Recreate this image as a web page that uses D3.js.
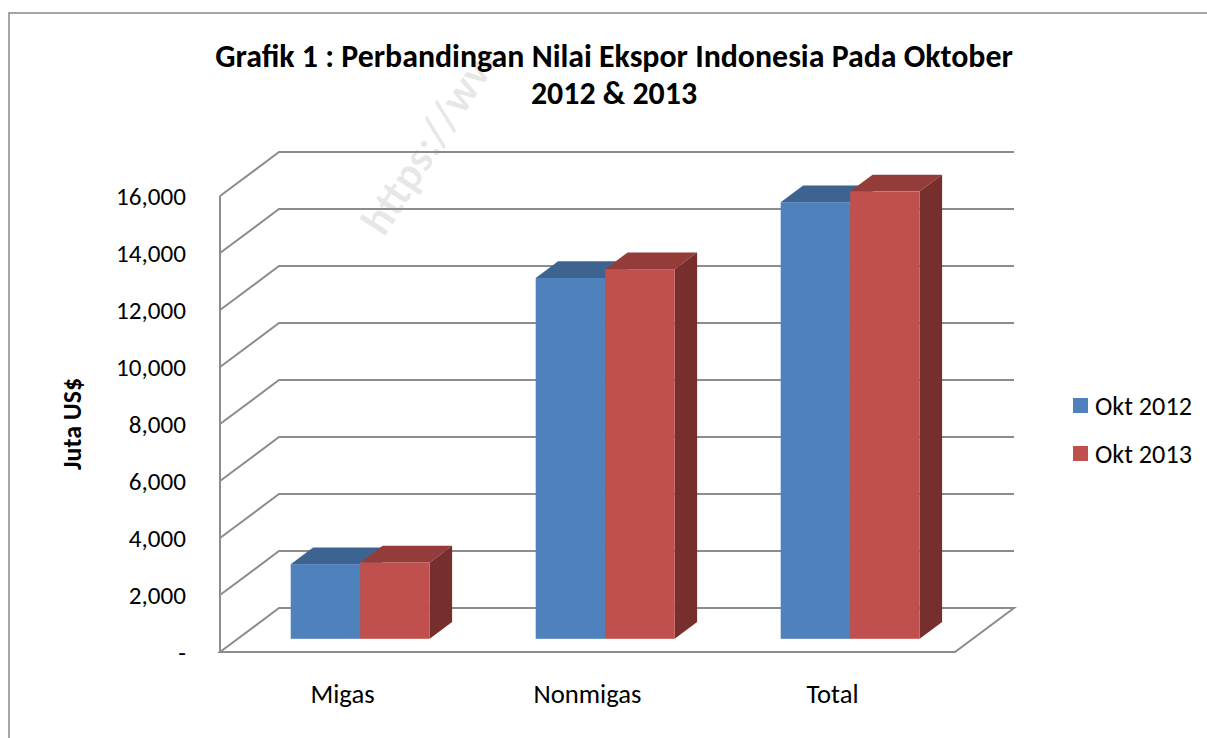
<!DOCTYPE html>
<html>
<head>
<meta charset="utf-8">
<script src="https://cdn.jsdelivr.net/npm/d3@7/dist/d3.min.js"></script>
<style>
  html, body { margin: 0; padding: 0; background: #fff; }
  svg { display: block; }
  text { font-family: Carlito, Lato, "Open Sans", sans-serif; fill: #000; }
</style>
</head>
<body>
<svg id="chart" width="1207" height="738"></svg>
<script>
// ---- data ----
const categories = ["Migas", "Nonmigas", "Total"];
const seriesNames = ["Okt 2012", "Okt 2013"];
const okt2012 = [2620, 12660, 15320];
const okt2013 = [2680, 12970, 15700];
const tickValues = [0, 2000, 4000, 6000, 8000, 10000, 12000, 14000, 16000];
const tickLabels = ["-", "2,000", "4,000", "6,000", "8,000", "10,000", "12,000", "14,000", "16,000"];
const titleLines = ["Grafik 1 : Perbandingan Nilai Ekspor Indonesia Pada Oktober", "2012 & 2013"];
const yAxisTitle = "Juta US$";
const watermark = "https://ww";

const seriesValues = [okt2012, okt2013];
const colors = {
  front: ["#4F81BD", "#C0504D"],
  top:   ["#3D6491", "#943C39"],
  side:  ["#34567D", "#772F2D"]
};

// ---- layout ----
const svg = d3.select("#chart");
const frontLeft = 220, frontRight = 955, baseY = 652;
const depth = { dx: 59, dy: -44 };
const barDepth0 = 0.30, barDepth1 = 0.68;
const gridColor = "#8C8C8C";
const fontFam = "Carlito, Lato, 'Open Sans', sans-serif";

// size a text group so that a reference label has the given width
function fitSize(sel, refNode, target, base) {
  const w = refNode.getComputedTextLength();
  const fs = base * target / w;
  sel.attr("font-size", fs);
  return fs;
}

const y = d3.scaleLinear().domain([0, 16000]).range([baseY, 196]);
const x = d3.scaleBand().domain(categories).range([frontLeft, frontRight]);
const xs = d3.scaleBand().domain(seriesNames).range([0, x.bandwidth()]).paddingInner(0).paddingOuter(0.7626);

// frame
svg.append("rect").attr("x", 9).attr("y", 13).attr("width", 1220).attr("height", 760)
  .attr("fill", "none").attr("stroke", "#888").attr("stroke-width", 1.5);

// watermark (kept fully inside the picture)
const wm = svg.append("text").attr("transform", "translate(384,238) rotate(-57)")
  .attr("font-size", 50).attr("font-weight", "bold").attr("fill", "#000").attr("fill-opacity", 0.09)
  .text(watermark);
fitSize(wm, wm.node(), 212, 50);

// title
const t1 = svg.append("text").attr("x", 614).attr("y", 67).attr("text-anchor", "middle")
  .attr("font-weight", "bold").attr("font-size", 28).text(titleLines[0]);
const tfs = fitSize(t1, t1.node(), 798, 28);
svg.append("text").attr("x", 614).attr("y", 104).attr("text-anchor", "middle")
  .attr("font-weight", "bold").attr("font-size", tfs).text(titleLines[1]);

// walls & gridlines
const grid = svg.append("g").attr("fill", "none").attr("stroke", gridColor).attr("stroke-width", 2);
tickValues.forEach(v => {
  const yf = y(v), yb = yf + depth.dy;
  if (v === 0) {
    grid.append("path").attr("d",
      `M${frontLeft},${yf}L${frontLeft + depth.dx},${yb}L${frontRight + depth.dx},${yb}L${frontRight},${yf}Z`);
  } else {
    grid.append("path").attr("d",
      `M${frontLeft},${yf}L${frontLeft + depth.dx},${yb}L${frontRight + depth.dx},${yb}`);
  }
});
grid.append("line").attr("x1", frontLeft).attr("x2", frontLeft).attr("y1", y(16000)).attr("y2", baseY);

// y axis labels
const axis = d3.axisLeft(y).tickValues(tickValues).tickFormat((d, i) => tickLabels[i]).tickSize(0).tickPadding(34);
const axG = svg.append("g").attr("transform", `translate(${frontLeft},0)`).call(axis);
axG.select(".domain").remove();
const tickTexts = axG.selectAll("text").attr("font-size", 24).attr("font-family", fontFam).attr("fill", "#000");
fitSize(tickTexts, tickTexts.nodes()[tickTexts.size() - 1], 70, 24);

// y axis title
const yt = svg.append("text").attr("transform", "translate(81,424) rotate(-90)").attr("text-anchor", "middle")
  .attr("font-weight", "bold").attr("font-size", 24).text(yAxisTitle);
fitSize(yt, yt.node(), 92, 24);

// bars
const bx0 = depth.dx * barDepth0, by0 = depth.dy * barDepth0;
const bdx = depth.dx * (barDepth1 - barDepth0), bdy = depth.dy * (barDepth1 - barDepth0);
const barsG = svg.append("g");
categories.forEach((cat, ci) => {
  seriesNames.forEach((s, si) => {
    const v = seriesValues[si][ci];
    const x0 = x(cat) + xs(s) + bx0, x1 = x0 + xs.bandwidth();
    const yB = baseY + by0, yT = y(v) + by0;
    const g = barsG.append("g");
    g.append("path").attr("fill", colors.top[si])
      .attr("d", `M${x0},${yT}L${x1},${yT}L${x1 + bdx},${yT + bdy}L${x0 + bdx},${yT + bdy}Z`);
    g.append("path").attr("fill", colors.side[si])
      .attr("d", `M${x1},${yT}L${x1 + bdx},${yT + bdy}L${x1 + bdx},${yB + bdy}L${x1},${yB}Z`);
    g.append("rect").attr("fill", colors.front[si])
      .attr("x", x0).attr("y", yT).attr("width", x1 - x0).attr("height", yB - yT);
  });
});

// category labels
const catTexts = svg.append("g").selectAll("text").data(categories).join("text")
  .attr("x", d => x(d) + x.bandwidth() / 2).attr("y", 703)
  .attr("text-anchor", "middle").attr("font-size", 24).text(d => d);
fitSize(catTexts, catTexts.nodes()[1], 108, 24);

// legend
const leg = svg.append("g").selectAll("g").data(seriesNames).join("g")
  .attr("transform", (d, i) => `translate(1073,${398 + i * 48})`);
leg.append("rect").attr("width", 15).attr("height", 15).attr("fill", (d, i) => colors.front[i]);
const legTexts = leg.append("text").attr("x", 22).attr("y", 8).attr("dy", "0.36em").attr("font-size", 24).text(d => d);
fitSize(legTexts, legTexts.nodes()[0], 97, 24);
</script>
</body>
</html>
